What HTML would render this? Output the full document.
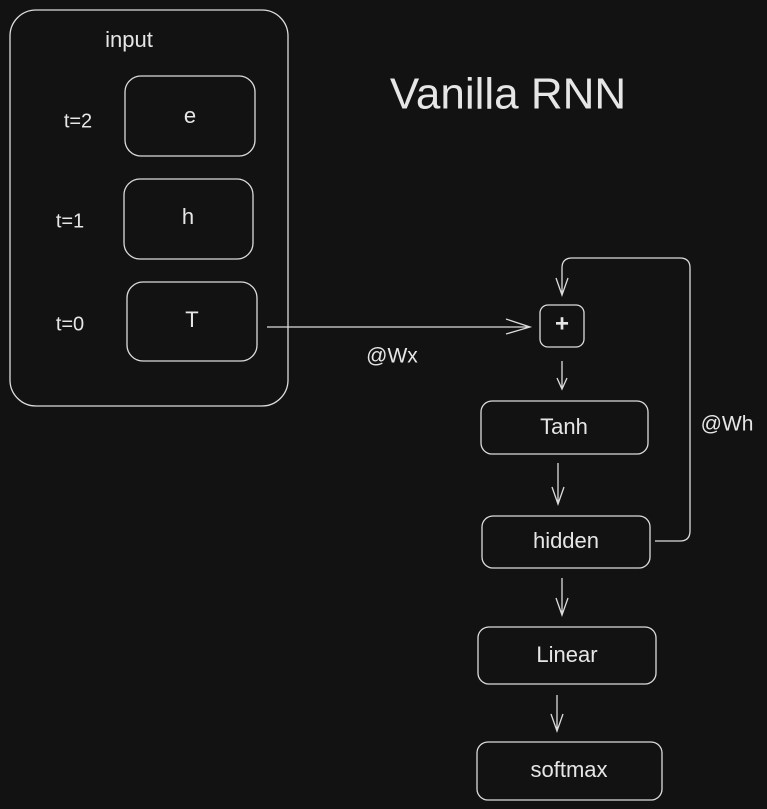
<!DOCTYPE html>
<html><head><style>
html,body{margin:0;padding:0;background:#121212;}
svg{display:block}
text{font-family:"Liberation Sans",sans-serif;fill:#e6e6e6;text-anchor:middle;dominant-baseline:middle}
</style></head><body>
<svg width="767" height="809" viewBox="0 0 767 809" xmlns="http://www.w3.org/2000/svg">
<rect width="767" height="809" fill="#121212"/>
<g fill="none" stroke="#dcdcdc" stroke-width="1.3">
<rect x="10" y="10" width="278" height="396" rx="26"/>
<rect x="125" y="76" width="130" height="80" rx="16"/>
<rect x="124" y="179" width="129" height="80" rx="16"/>
<rect x="127" y="282" width="130" height="79" rx="16"/>
<rect x="540" y="305" width="44" height="42" rx="8"/>
<rect x="481" y="401" width="167" height="53" rx="11"/>
<rect x="482" y="516" width="168" height="52" rx="11"/>
<rect x="478" y="627" width="178" height="57" rx="11"/>
<rect x="477" y="742" width="185" height="58" rx="11"/>
<path d="M267 327 L530 327 M506 319 L530 327 L506 334"/>
<path d="M655 541 L680 541 Q690 541 690 531 L690 268 Q690 258 680 258 L572 258 Q562 258 562 268 L562 295 M556 278 L562 295 L568 278"/>
<path d="M562 361 L562 389 M557 378 L562 389 L567 378"/>
<path d="M558 463 L558 504 M552 487 L558 504 L564 487"/>
<path d="M562 578 L562 615 M556 598 L562 615 L568 598"/>
<path d="M557 695 L557 731 M551 714 L557 731 L563 714"/>
</g>
<text x="129" y="41" font-size="22">input</text>
<text x="78" y="122" font-size="20">t=2</text>
<text x="70" y="222" font-size="20">t=1</text>
<text x="70" y="325" font-size="20">t=0</text>
<text x="190" y="117" font-size="22">e</text>
<text x="188" y="218" font-size="22">h</text>
<text x="192" y="321" font-size="22">T</text>
<text x="508" y="97" font-size="44">Vanilla RNN</text>
<text x="562" y="325" font-size="24" font-weight="bold">+</text>
<text x="392" y="357" font-size="21">@Wx</text>
<text x="727" y="425" font-size="21">@Wh</text>
<text x="564" y="428" font-size="22">Tanh</text>
<text x="566" y="542" font-size="22">hidden</text>
<text x="567" y="656" font-size="22">Linear</text>
<text x="569" y="771" font-size="22">softmax</text>
</svg>
</body></html>
